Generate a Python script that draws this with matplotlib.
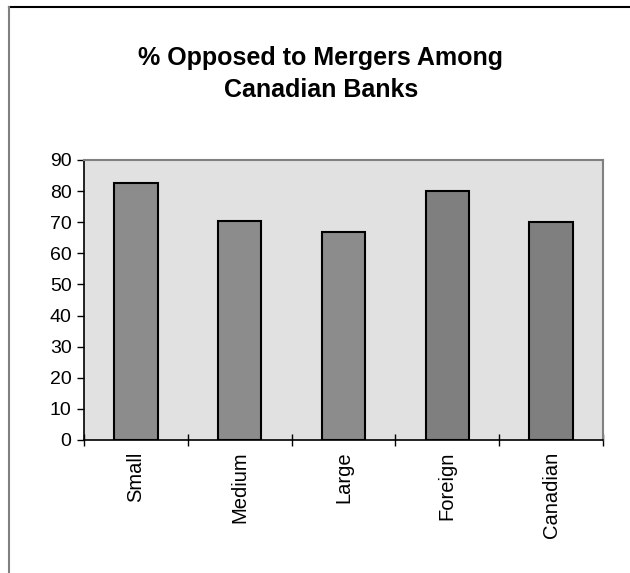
import matplotlib.pyplot as plt
from matplotlib.lines import Line2D

categories = ['Small', 'Medium', 'Large', 'Foreign', 'Canadian']
opposed = [82.5, 70.5, 67, 80, 70]
bar_colors = ['#8c8c8c', '#8c8c8c', '#8c8c8c', '#7f7f7f', '#7f7f7f']

plt.rcParams['font.family'] = ['Liberation Sans', 'DejaVu Sans']

fig = plt.figure(figsize=(6.3, 5.73), dpi=100)
ax = fig.add_axes([84 / 630, 133 / 573, 519 / 630, 280 / 573])

# outer chart frame (only top and left visible in the crop)
fig.add_artist(Line2D([9 / 630, 1], [1 - 7 / 573, 1 - 7 / 573], color='black', lw=1.5))
fig.add_artist(Line2D([9 / 630, 9 / 630], [0, 1 - 7 / 573], color='#808080', lw=1.5))

x = range(len(categories))
ax.bar(x, opposed, width=0.42, color=bar_colors, edgecolor='black', linewidth=1.5, zorder=3)

ax.set_facecolor('#e1e1e1')
ax.set_xlim(-0.5, len(categories) - 0.5)
ax.set_ylim(0, 90)
ax.set_yticks(range(0, 91, 10))
ax.tick_params(axis='y', labelsize=14, direction='out', length=5, width=1, pad=4)

ax.set_xticks([i - 0.5 for i in range(len(categories) + 1)])
ax.set_xticklabels([])
ax.tick_params(axis='x', direction='inout', length=8, width=1)
for i, name in enumerate(categories):
    ax.text(i, -3.8, name, rotation=90, ha='center', va='top', fontsize=14.5)

for s in ['left', 'bottom']:
    ax.spines[s].set_color('black')
    ax.spines[s].set_linewidth(1.2)
for s in ['top', 'right']:
    ax.spines[s].set_color('#808080')
    ax.spines[s].set_linewidth(1.5)

fig.text(321 / 630, 1 - 74 / 573, '% Opposed to Mergers Among\nCanadian Banks',
         ha='center', va='center', fontsize=18, fontweight='bold', linespacing=1.45)

fig.savefig('out.png', dpi=100)
